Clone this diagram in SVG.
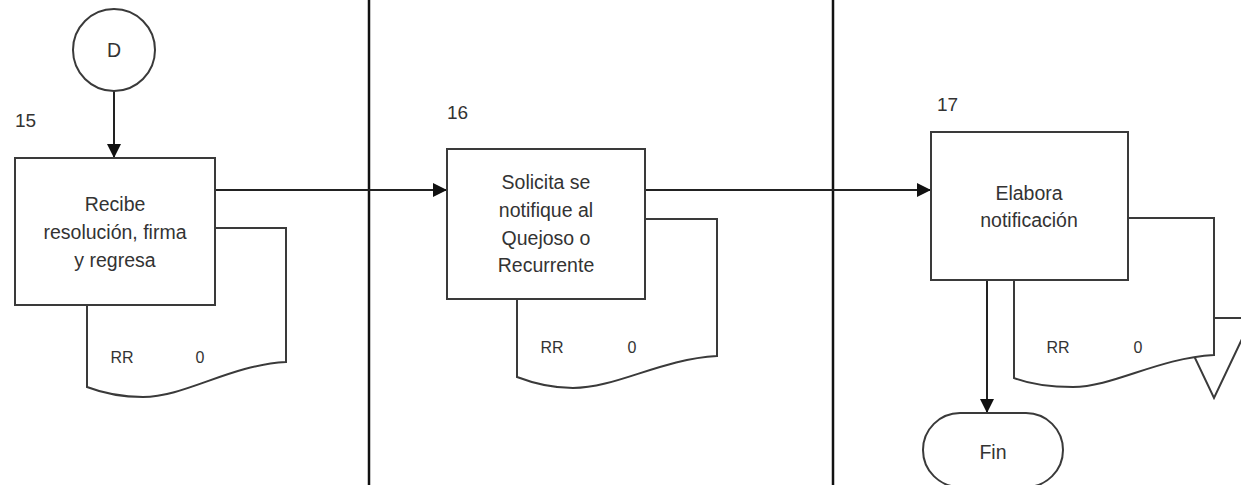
<svg xmlns="http://www.w3.org/2000/svg" width="1241" height="485" viewBox="0 0 1241 485">
<style>
.bg{fill:#ffffff}
.shape{fill:#ffffff;stroke:#3a3a3a;stroke-width:2}
.lane{stroke:#111111;stroke-width:2.5;fill:none}
.conn{stroke:#222222;stroke-width:2;fill:none}
.t{font-family:"Liberation Sans",Arial,sans-serif;font-size:19.5px;fill:#333333;text-anchor:middle}
.lbl{font-family:"Liberation Sans",Arial,sans-serif;font-size:19px;fill:#333333}
.s{font-family:"Liberation Sans",Arial,sans-serif;font-size:16px;fill:#333333;text-anchor:middle}
</style>
<defs>
<marker id="arr" markerUnits="userSpaceOnUse" markerWidth="14" markerHeight="14" refX="13" refY="7" orient="auto">
<path d="M0,0 L14,7 L0,14 Z" fill="#111111"/>
</marker>
</defs>
<rect class="bg" x="0" y="0" width="1241" height="485"/>
<g id="lanes">
<line class="lane" x1="369" y1="0" x2="369" y2="485"/>
<line class="lane" x1="833" y1="0" x2="833" y2="485"/>
</g>
<g id="connectors">
<line class="conn" x1="114" y1="91" x2="114" y2="157" marker-end="url(#arr)"/>
<line class="conn" x1="215" y1="190" x2="446" y2="190" marker-end="url(#arr)"/>
<line class="conn" x1="645" y1="190" x2="930" y2="190" marker-end="url(#arr)"/>
<line class="conn" x1="987" y1="280" x2="987" y2="412" marker-end="url(#arr)"/>
</g>
<g id="conector-D">
<circle class="shape" cx="114" cy="50" r="41"/>
<text class="t" x="114" y="57">D</text>
</g>
<g id="paso-15">
<path class="shape" d="M87,228 H286 V362 C230,365 185,397 143,397 C120,397 100,392 87,387 Z"/>
<rect class="shape" x="15" y="158" width="200" height="147"/>
<text class="lbl" x="15" y="127">15</text>
<text class="t" x="115" y="211">Recibe</text>
<text class="t" x="115" y="239">resolución, firma</text>
<text class="t" x="115" y="267">y regresa</text>
<text class="s" x="122" y="363">RR</text>
<text class="s" x="200" y="363">0</text>
</g>
<g id="paso-16">
<path class="shape" d="M517,219 H717 V356 C661,359 616,388 573,388 C550,388 530,382 517,377 Z"/>
<rect class="shape" x="447" y="149" width="198" height="150"/>
<text class="lbl" x="447" y="119">16</text>
<text class="t" x="546" y="189">Solicita se</text>
<text class="t" x="546" y="217">notifique al</text>
<text class="t" x="546" y="245">Quejoso o</text>
<text class="t" x="546" y="272">Recurrente</text>
<text class="s" x="552" y="353">RR</text>
<text class="s" x="632" y="353">0</text>
</g>
<g id="archivo">
<polygon class="shape" points="1176,318 1252,318 1214,398"/>
</g>
<g id="paso-17">
<path class="shape" d="M1014,218 H1214 V355 C1158,358 1113,387 1073,387 C1047,387 1027,383 1014,378 Z"/>
<rect class="shape" x="931" y="132" width="197" height="148"/>
<text class="lbl" x="937" y="111">17</text>
<text class="t" x="1029" y="200">Elabora</text>
<text class="t" x="1029" y="227">notificación</text>
<text class="s" x="1058" y="353">RR</text>
<text class="s" x="1138" y="353">0</text>
</g>
<g id="fin">
<rect class="shape" x="923" y="413" width="140" height="74" rx="37" ry="37"/>
<text class="t" x="993" y="459">Fin</text>
</g>
</svg>
